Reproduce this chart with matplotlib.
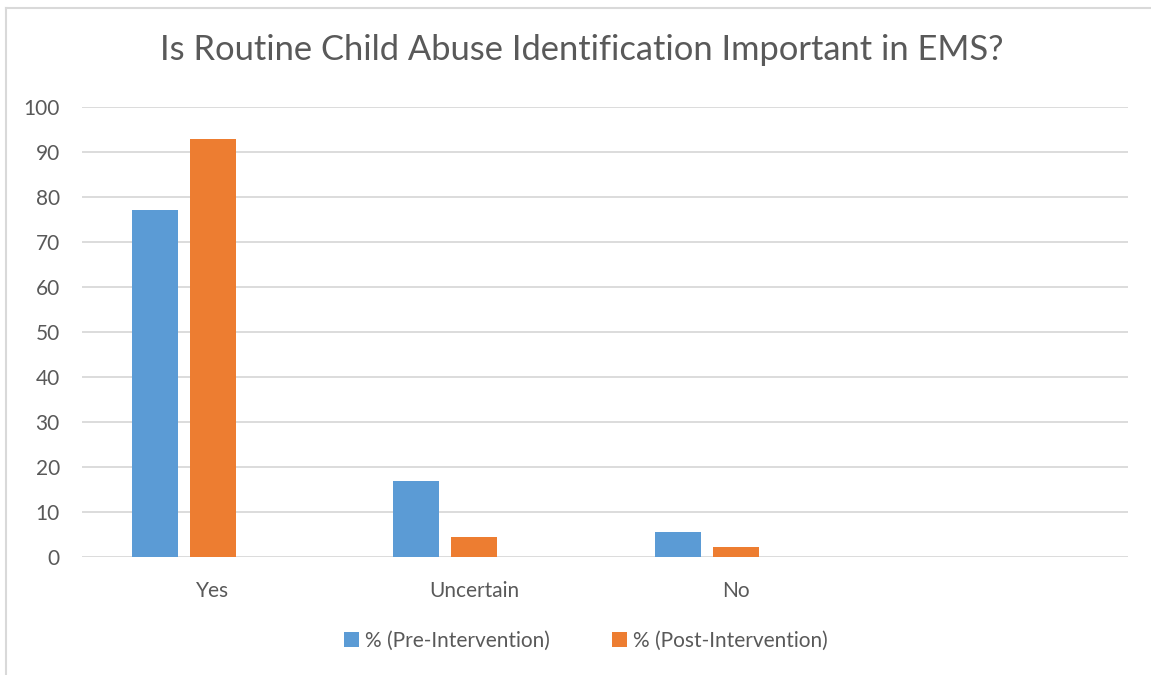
import matplotlib
matplotlib.use("Agg")
import matplotlib.pyplot as plt
from matplotlib.lines import Line2D
import numpy as np

plt.rcParams['font.family'] = ['Lato', 'DejaVu Sans']

categories = ["Yes", "Uncertain", "No", ""]
pre = [77.1, 16.9, 5.6, 0]
post = [92.9, 4.4, 2.2, 0]
series_names = ["% (Pre-Intervention)", "% (Post-Intervention)"]

blue = "#5B9BD5"
orange = "#ED7D31"
txt = "#595959"
grid = "#D9D9D9"

fig = plt.figure(figsize=(11.51, 6.75), dpi=100)
ax = fig.add_axes([82/1151, 1-557/675, (1128-82)/1151, 450/675])

x = np.arange(len(categories))
w = 0.176
step = 0.222
b1 = ax.bar(x - step, pre, w, color=blue, label=series_names[0])
b2 = ax.bar(x, post, w, color=orange, label=series_names[1])

ax.set_xlim(-0.5, len(categories) - 0.5)
ax.set_ylim(0, 100)
ax.set_yticks(range(0, 101, 10))
ax.set_xticks(x)
ax.set_xticklabels(categories)
ax.yaxis.grid(True, color=grid, linewidth=1.3)
ax.set_axisbelow(True)
for s in ax.spines.values():
    s.set_visible(False)
ax.tick_params(axis='both', length=0, labelsize=15, colors=txt)
ax.tick_params(axis='y', pad=16)
ax.tick_params(axis='x', pad=17)

fig.text(0.505, 1-50/675, "Is Routine Child Abuse Identification Important in EMS?",
         ha='center', va='center', fontsize=24.8, color=txt)

fig.legend(handles=[b1, b2], loc='center', bbox_to_anchor=(586/1151, 1-641/675),
           ncol=2, frameon=False, fontsize=15, labelcolor=txt,
           handlelength=0.7, handleheight=0.7, handletextpad=0.3, columnspacing=3)

# chart border
fig.add_artist(Line2D([6/1151, 6/1151], [0, 1-8/675], color="#D9D9D9", linewidth=1.5))
fig.add_artist(Line2D([6/1151, 1], [1-8/675, 1-8/675], color="#D9D9D9", linewidth=1.5))

fig.savefig("out.png", dpi=100, facecolor="white")
